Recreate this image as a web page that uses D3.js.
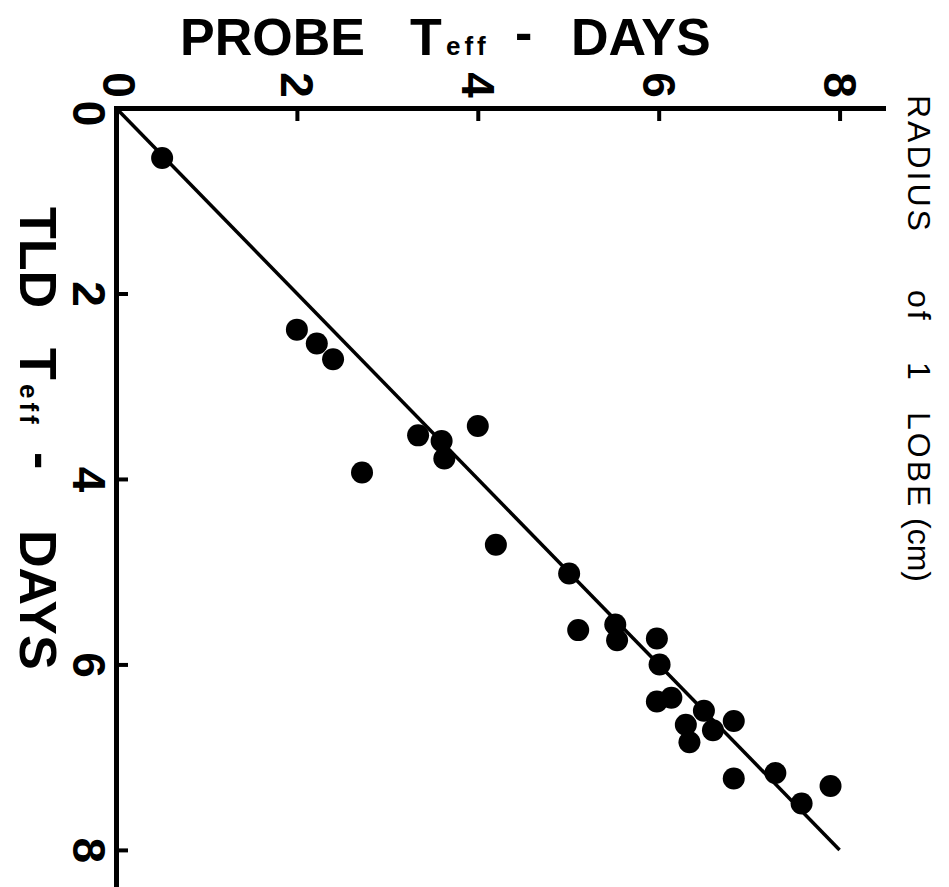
<!DOCTYPE html>
<html>
<head>
<meta charset="utf-8">
<script src="https://cdn.jsdelivr.net/npm/d3@7"></script>
<style>
  body { margin: 0; background: #fff; }
  svg text { font-family: "Liberation Sans", Arial, sans-serif; }
</style>
</head>
<body>
<div id="chart"></div>
<script>
// data (x = probe, y = TLD), days
var probeDays = [0.51, 2.00, 2.22, 2.40, 2.72, 3.34, 3.60, 3.63, 4.00, 4.20,
                 5.01, 5.11, 5.52, 5.54, 5.98, 6.01, 5.98, 6.14, 6.50, 6.30,
                 6.34, 6.60, 6.83, 6.83, 7.29, 7.58, 7.90];
var tldDays   = [0.54, 2.39, 2.54, 2.71, 3.93, 3.53, 3.59, 3.78, 3.43, 4.71,
                 5.02, 5.63, 5.57, 5.74, 5.72, 6.00, 6.40, 6.36, 6.50, 6.65,
                 6.84, 6.71, 6.61, 7.23, 7.17, 7.50, 7.31];
var fitProbe = [0, 8];
var fitTld = [0, 8];
var tickValues = [0, 2, 4, 6, 8];

var svgWidth = 949;
var svgHeight = 887;

var svg = d3.select("#chart")
    .append("svg")
    .attr("width", svgWidth)
    .attr("height", svgHeight);

// 1) scales, origin top left
var xScale = d3.scaleLinear()
    .domain([0, 8.48])
    .range([116, 883]);
var yScale = d3.scaleLinear()
    .domain([0, 8.4])
    .range([108, 887]);

// 2) top axis (probe)
var topAxis = svg.append("g")
    .attr("transform", "translate(0, " + yScale(0) + ")")
    .call(d3.axisTop(xScale).tickValues(tickValues).tickSizeInner(-13).tickSizeOuter(0));
topAxis.select(".domain").attr("stroke-width", 5).attr("stroke-linecap", "square");
topAxis.selectAll(".tick line").attr("stroke-width", 4);
topAxis.selectAll(".tick text")
    .attr("x", 0).attr("y", 0).attr("dy", "0.36em")
    .attr("transform", d => "translate(" + (d === 0 ? 3 : 0) + ", -23) rotate(90)")
    .style("font-size", "46px")
    .style("font-weight", "bold")
    .style("text-anchor", "middle")
    .style("fill", "#000");

// 3) left axis (TLD)
var leftAxis = svg.append("g")
    .attr("transform", "translate(" + xScale(0) + ", 0)")
    .call(d3.axisLeft(yScale).tickValues(tickValues).tickSizeInner(-12).tickSizeOuter(0));
leftAxis.select(".domain").attr("stroke-width", 5).attr("stroke-linecap", "square");
leftAxis.selectAll(".tick line").attr("stroke-width", 4);
leftAxis.selectAll(".tick text")
    .attr("x", 0).attr("y", 0).attr("dy", "0.36em")
    .attr("transform", d => "translate(-26, " + (d === 0 ? 5 : 0) + ") rotate(90)")
    .style("font-size", "46px")
    .style("font-weight", "bold")
    .style("text-anchor", "middle")
    .style("fill", "#000");

// 4) fitted line
var fitData = fitProbe.map((p, i) => ({ probe: p, tld: fitTld[i] }));
svg.append("path")
    .datum(fitData)
    .attr("d", d3.line().x(d => xScale(d.probe)).y(d => yScale(d.tld)))
    .attr("fill", "none")
    .attr("stroke", "#000")
    .attr("stroke-width", 3.5);

// 5) points
var points = probeDays.map((p, i) => ({ probe: p, tld: tldDays[i] }));
svg.selectAll("circle")
    .data(points)
    .enter()
    .append("circle")
    .attr("cx", d => xScale(d.probe))
    .attr("cy", d => yScale(d.tld))
    .attr("r", 11)
    .attr("fill", "#000");

// 6) titles
var topTitle = svg.append("text")
    .attr("y", 55)
    .style("font-weight", "bold")
    .style("font-size", "52px");
topTitle.append("tspan").attr("x", 180).text("PROBE");
topTitle.append("tspan").attr("x", 410).text("T");
topTitle.append("tspan").attr("x", 446).style("font-size", "26px").style("letter-spacing", "4px").text("eff");
topTitle.append("tspan").attr("x", 515).attr("dy", -5).text("-");
topTitle.append("tspan").attr("x", 571).attr("dy", 5).text("DAYS");

var leftTitle = svg.append("text")
    .attr("transform", "translate(20, 0) rotate(90)")
    .attr("y", 0)
    .style("font-weight", "bold")
    .style("font-size", "52px");
leftTitle.append("tspan").attr("x", 207).text("TLD");
leftTitle.append("tspan").attr("x", 348).text("T");
leftTitle.append("tspan").attr("x", 384).style("font-size", "26px").style("letter-spacing", "4px").text("eff");
leftTitle.append("tspan").attr("x", 452).attr("dy", -5).text("-");
leftTitle.append("tspan").attr("x", 530).attr("dy", 5).text("DAYS");

var rightTitle = svg.append("text")
    .attr("transform", "translate(908, 0) rotate(90)")
    .attr("y", 0)
    .style("font-size", "32px")
    .style("letter-spacing", "3px");
rightTitle.append("tspan").attr("x", 95).text("RADIUS");
rightTitle.append("tspan").attr("x", 290).text("of");
rightTitle.append("tspan").attr("x", 362).text("1");
rightTitle.append("tspan").attr("x", 412).text("LOBE");
rightTitle.append("tspan").attr("x", 518).style("letter-spacing", "0px").text("(cm)");
</script>
</body>
</html>
